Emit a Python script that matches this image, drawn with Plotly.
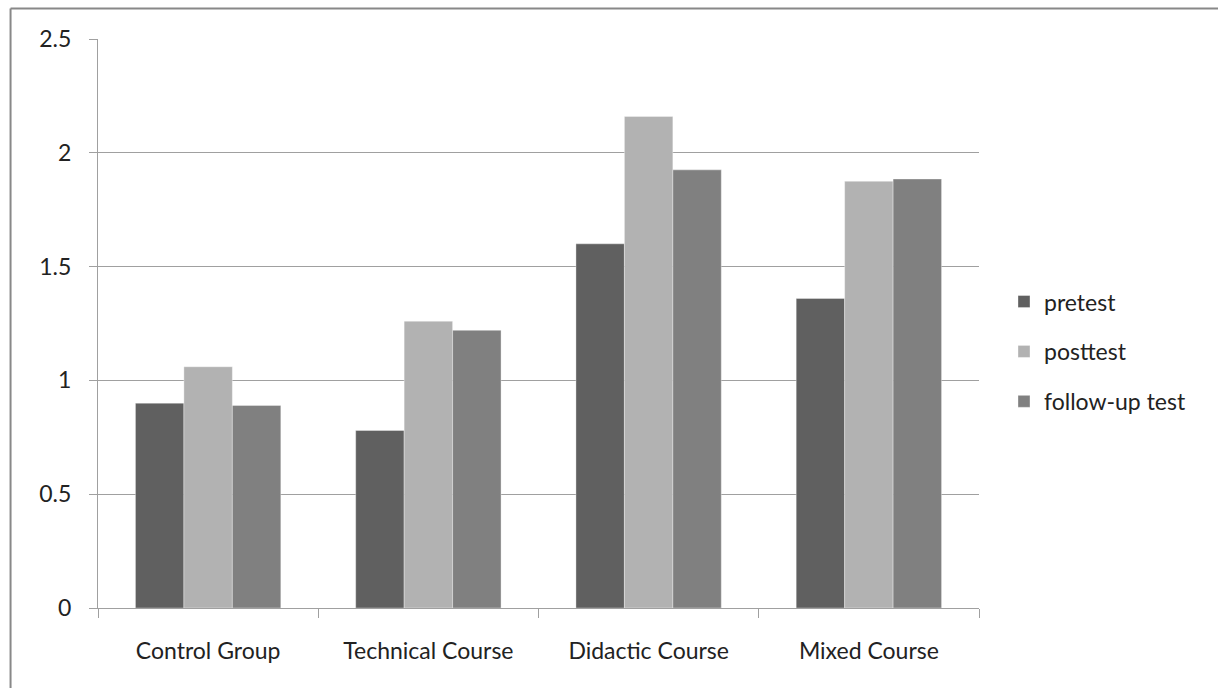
import plotly.graph_objects as go

categories = ["Control Group", "Technical Course", "Didactic Course", "Mixed Course"]
pretest = [0.90, 0.78, 1.60, 1.36]
posttest = [1.06, 1.26, 2.16, 1.875]
follow_up = [0.89, 1.22, 1.925, 1.885]

series = [
    ("pretest", pretest, "#606060"),
    ("posttest", posttest, "#b2b2b2"),
    ("follow-up test", follow_up, "#808080"),
]

W, H = 1218, 688
L, R, T, B = 97.5, 239, 38.5, 79.5
pw = W - L - R
ph = H - T - B

font_family = "Lato, 'Open Sans', sans-serif"
fs = 23

fig = go.Figure()
for name, vals, color in series:
    fig.add_trace(go.Bar(
        x=categories, y=vals, name=name, legendgroup=name,
        marker=dict(color=color, line=dict(color="rgba(255,255,255,0.35)", width=1)),
    ))


def px_x(p):
    return (p - L) / pw


def px_y(p):
    return 1 - (p - T) / ph


# frame lines along top and left edge of the chart area
shapes = [
    dict(type="line", xref="paper", yref="paper", x0=px_x(10), x1=px_x(W + 5),
         y0=px_y(8), y1=px_y(8), line=dict(color="#888888", width=2)),
    dict(type="line", xref="paper", yref="paper", x0=px_x(10), x1=px_x(10),
         y0=px_y(8), y1=px_y(H + 5), line=dict(color="#888888", width=2)),
]

fig.update_layout(
    width=W, height=H,
    margin=dict(l=L, r=R, t=T, b=B, pad=0),
    paper_bgcolor="white", plot_bgcolor="white",
    barmode="group", bargap=0.34, bargroupgap=0,
    font=dict(family=font_family, size=fs, color="#222222"),
    shapes=shapes,
    legend=dict(
        x=px_x(1004), y=px_y(280), xanchor="left", yanchor="top",
        font=dict(size=fs, color="#222222"), tracegroupgap=17,
        itemwidth=30, bgcolor="rgba(0,0,0,0)",
    ),
    xaxis=dict(
        showline=True, linecolor="#a0a0a0", linewidth=1,
        ticks="outside", tickson="boundaries", ticklen=9, tickcolor="#a0a0a0",
        showgrid=False, tickfont=dict(size=fs), ticklabelstandoff=22,
    ),
    yaxis=dict(
        range=[0, 2.5], tickvals=[0, 0.5, 1, 1.5, 2, 2.5],
        ticktext=["0", "0.5", "1", "1.5", "2", "2.5"],
        showline=True, linecolor="#a0a0a0", linewidth=1,
        ticks="outside", ticklen=8, tickcolor="#a0a0a0",
        showgrid=True, gridcolor="#a0a0a0", gridwidth=1,
        zeroline=False, tickfont=dict(size=fs), ticklabelstandoff=13,
    ),
)

fig.write_html("out.html")
